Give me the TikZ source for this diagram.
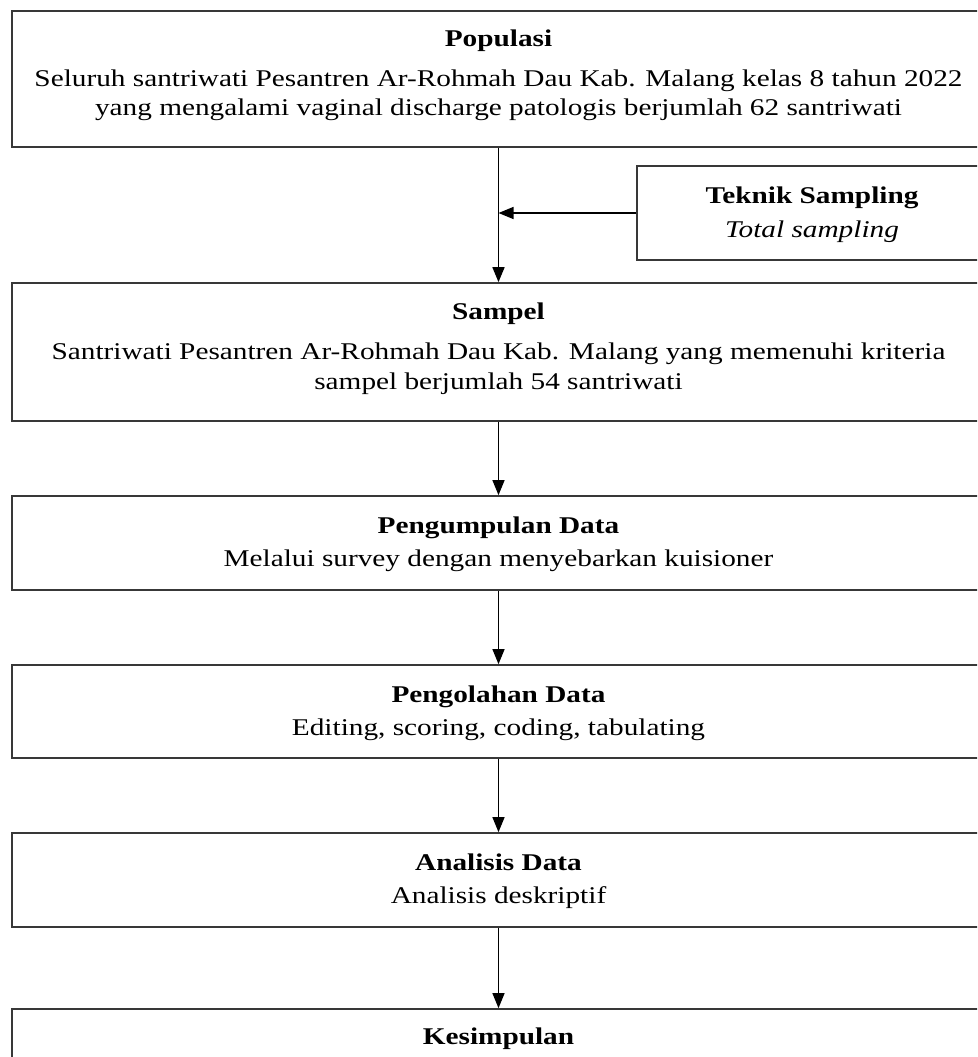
\documentclass[tikz,border=0pt]{standalone}
\usepackage{fontspec}
\setmainfont{Liberation Serif}[FakeStretch=1.22]
\usetikzlibrary{arrows.meta}
\begin{document}
\begin{tikzpicture}[x=1pt,y=-1pt,
  box/.style={draw=black!78, line width=1.7pt, inner sep=0pt, minimum width=973pt},
  txt/.style={inner sep=0pt, anchor=base, font=\fontsize{24}{28}\selectfont},
  arr/.style={draw=black, line width=1.3pt, -{Triangle[width=12pt,length=15pt]}}]
\useasboundingbox (0,0) rectangle (977,1057);
\clip (0,0) rectangle (977,1057);
% boxes
\node[box, minimum height=136pt] (pop) at (498.5,79) {};
\node[box, minimum width=350pt, minimum height=94pt] (tek) at (812,213) {};
\node[box, minimum height=138pt] (sam) at (498.5,352) {};
\node[box, minimum height=94pt] (kum) at (498.5,543) {};
\node[box, minimum height=93pt] (ola) at (498.5,711.5) {};
\node[box, minimum height=94pt] (ana) at (498.5,880) {};
\node[box, minimum height=120pt] (kes) at (498.5,1069) {};
% texts
\node[txt] (popT) at (498.5,47) {\textbf{Populasi}};
\node[txt] (popA) at (498.5,86) {Seluruh santriwati Pesantren Ar-Rohmah Dau Kab. Malang kelas 8 tahun 2022};
\node[txt] (popB) at (498.5,115) {yang mengalami vaginal discharge patologis berjumlah 62 santriwati};
\node[txt] (tekT) at (812,203) {\textbf{Teknik Sampling}};
\node[txt] (tekB) at (812,237) {\textit{Total sampling}};
\node[txt] (samT) at (498.5,319) {\textbf{Sampel}};
\node[txt] (samA) at (498.5,359) {Santriwati Pesantren Ar-Rohmah Dau Kab. Malang yang memenuhi kriteria};
\node[txt] (samB) at (498.5,389) {sampel berjumlah 54 santriwati};
\node[txt] (kumT) at (498.5,533) {\textbf{Pengumpulan Data}};
\node[txt] (kumB) at (498.5,566) {Melalui survey dengan menyebarkan kuisioner};
\node[txt] (olaT) at (498.5,702) {\textbf{Pengolahan Data}};
\node[txt] (olaB) at (498.5,735) {Editing, scoring, coding, tabulating};
\node[txt] (anaT) at (498.5,870) {\textbf{Analisis Data}};
\node[txt] (anaB) at (498.5,903) {Analisis deskriptif};
\node[txt] (kesT) at (498.5,1044) {\textbf{Kesimpulan}};
% connectors
\coordinate (jn) at (pop.south |- tek.west);
\draw[arr, line width=1.6pt] (pop.south) -- (sam.north);
\draw[arr] (tek.west) -- (jn);
\draw[arr] (sam.south) -- (kum.north);
\draw[arr] (kum.south) -- (ola.north);
\draw[arr] (ola.south) -- (ana.north);
\draw[arr] (ana.south) -- (kes.north);
\end{tikzpicture}
\end{document}
